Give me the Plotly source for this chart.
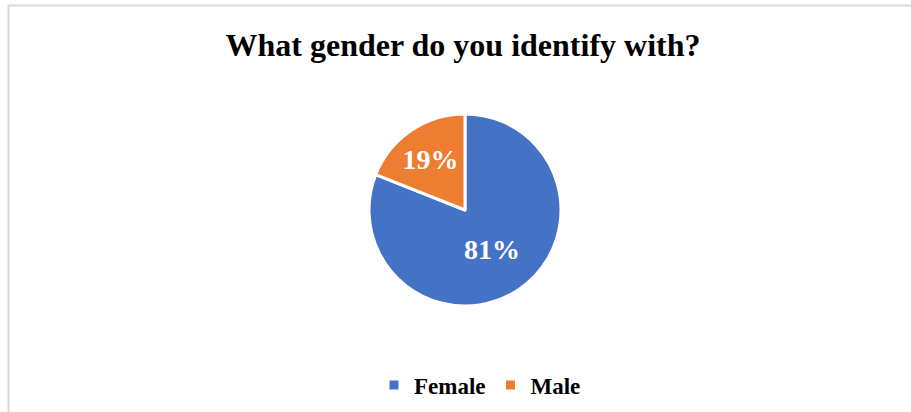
import plotly.graph_objects as go

labels = ["Female", "Male"]
values = [81, 19]
colors = ["#4472C4", "#ED7D31"]

W, H = 911, 412
cx, cy, r = 465, 210, 96

fig = go.Figure(go.Pie(
    labels=labels, values=values, sort=False, direction="clockwise", rotation=0,
    marker=dict(colors=colors, line=dict(color="white", width=3)),
    texttemplate="%{percent:.0%}", textposition="inside", insidetextorientation="horizontal",
    textfont=dict(family="Liberation Serif", size=28, color="white", weight="bold"),
    domain=dict(x=[(cx - r) / W, (cx + r) / W], y=[(H - cy - r) / H, (H - cy + r) / H]),
    hoverinfo="label+percent",
))

fig.update_layout(
    width=W, height=H,
    margin=dict(l=0, r=0, t=0, b=0),
    paper_bgcolor="white", plot_bgcolor="white",
    title=dict(text="What gender do you identify with?", x=463 / W, xanchor="center",
               y=1 - 45 / H, yanchor="middle",
               font=dict(family="Liberation Serif", size=32, color="black", weight="bold")),
    legend=dict(orientation="h", x=480 / W, xanchor="center", y=1 - 385 / H, yanchor="middle",
                font=dict(family="Liberation Serif", size=23, color="black", weight="bold"),
                itemwidth=30, tracegroupgap=0),
    shapes=[
        dict(type="line", xref="paper", yref="paper", x0=8 / W, x1=1.01, y0=1 - 5.5 / H, y1=1 - 5.5 / H,
             line=dict(color="#D9D9D9", width=2)),
        dict(type="line", xref="paper", yref="paper", x0=8.5 / W, x1=8.5 / W, y0=-0.01, y1=1 - 5 / H,
             line=dict(color="#D9D9D9", width=2)),
    ],
)

fig.write_html("out.html", config={"displayModeBar": False},
               post_script="document.body.style.margin='0';document.body.style.padding='0';")
